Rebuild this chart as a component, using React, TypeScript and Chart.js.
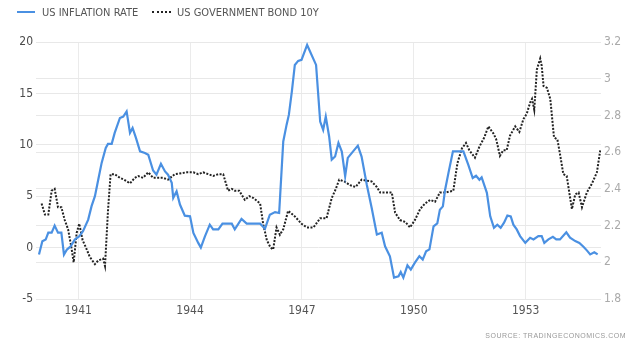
import React, { useEffect, useRef } from "react";
import { Chart, registerables } from "chart.js";

Chart.register(...registerables);

const inflationYears = [
  1939.95, 1940.04, 1940.13, 1940.2, 1940.29, 1940.37, 1940.46, 1940.55, 1940.62, 1940.7,
  1940.8, 1940.91, 1941.03, 1941.13, 1941.27, 1941.36, 1941.45, 1941.54, 1941.63, 1941.74,
  1941.8, 1941.9, 1941.98, 1942.12, 1942.21, 1942.3, 1942.39, 1942.46, 1942.55, 1942.66,
  1942.79, 1942.88, 1943.01, 1943.1, 1943.22, 1943.33, 1943.41, 1943.51, 1943.55, 1943.64,
  1943.73, 1943.86, 1944.0, 1944.09, 1944.22, 1944.29, 1944.4, 1944.53, 1944.62, 1944.76,
  1944.87, 1945.12, 1945.2, 1945.38, 1945.52, 1945.88, 1946.01, 1946.14, 1946.28, 1946.39,
  1946.5, 1946.59, 1946.65, 1946.73, 1946.81, 1946.9, 1946.99, 1947.14, 1947.38, 1947.49,
  1947.57, 1947.64, 1947.73, 1947.8, 1947.89, 1947.98, 1948.07, 1948.16, 1948.23, 1948.34,
  1948.5, 1948.6, 1948.74, 1948.87, 1949.01, 1949.14, 1949.23, 1949.36, 1949.47, 1949.59,
  1949.65, 1949.72, 1949.83, 1949.92, 1950.03, 1950.15, 1950.24, 1950.33, 1950.42, 1950.53,
  1950.63, 1950.7, 1950.78, 1950.84, 1950.93, 1951.05, 1951.33, 1951.46, 1951.58, 1951.67,
  1951.76, 1951.82, 1951.96, 1952.05, 1952.15, 1952.24, 1952.33, 1952.42, 1952.51, 1952.6,
  1952.67, 1952.76, 1952.85, 1952.99, 1953.12, 1953.21, 1953.34, 1953.43, 1953.5, 1953.61,
  1953.73, 1953.82, 1953.92, 1954.09, 1954.19, 1954.33, 1954.44, 1954.55, 1954.64, 1954.73,
  1954.84, 1954.93,
];

const inflationValues = [
  -0.68, 0.61, 0.78, 1.45, 1.45, 2.14, 1.45, 1.45, -0.68, -0.19,
  0.13, 0.78, 1.1, 1.6, 2.72, 4.03, 5.0, 6.62, 8.24, 9.7,
  10.09, 10.09, 11.16, 12.61, 12.75, 13.25, 11.16, 11.64, 10.67, 9.37,
  9.21, 9.03, 7.5, 7.09, 8.15, 7.41, 7.09, 6.3, 4.84, 5.47,
  4.19, 3.11, 3.04, 1.43, 0.46, 0.0, 1.1, 2.23, 1.77, 1.77,
  2.33, 2.33, 1.77, 2.79, 2.33, 2.33, 1.84, 3.2, 3.45, 3.37,
  10.32, 11.96, 12.91, 15.17, 17.77, 18.16, 18.27, 19.71, 17.77, 12.26,
  11.46, 12.75, 10.81, 8.56, 8.86, 10.18, 9.35, 6.94, 8.73, 9.21,
  9.92, 8.86, 6.12, 3.87, 1.28, 1.45, 0.13, -0.84, -2.92, -2.79,
  -2.38, -2.92, -1.73, -2.14, -1.47, -0.84, -1.17, -0.36, -0.17, 2.07,
  2.35, 3.69, 4.01, 5.63, 7.27, 9.37, 9.37, 8.06, 6.77, 6.99,
  6.6, 6.84, 5.33, 3.04, 1.93, 2.23, 1.93, 2.42, 3.11, 3.04,
  2.23, 1.77, 1.12, 0.46, 0.96, 0.8, 1.12, 1.12, 0.46, 0.8,
  1.04, 0.8, 0.8, 1.49, 0.96, 0.63, 0.46, 0.09, -0.27, -0.66,
  -0.46, -0.66,
];

const bondYears = [
  1940.02, 1940.11, 1940.2, 1940.29, 1940.37, 1940.46, 1940.55, 1940.64, 1940.73, 1940.82,
  1940.88, 1940.96, 1941.03, 1941.12, 1941.21, 1941.31, 1941.45, 1941.54, 1941.67, 1941.72,
  1941.8, 1941.87, 1941.98, 1942.12, 1942.23, 1942.39, 1942.52, 1942.61, 1942.74, 1942.88,
  1943.01, 1943.1, 1943.28, 1943.41, 1943.59, 1943.91, 1944.09, 1944.22, 1944.35, 1944.49,
  1944.62, 1944.76, 1944.89, 1945.02, 1945.12, 1945.2, 1945.32, 1945.47, 1945.59, 1945.7,
  1945.88, 1945.96, 1946.06, 1946.16, 1946.23, 1946.32, 1946.41, 1946.5, 1946.63, 1946.81,
  1946.99, 1947.13, 1947.31, 1947.49, 1947.66, 1947.8, 1947.91, 1948.0, 1948.14, 1948.29,
  1948.44, 1948.6, 1948.87, 1949.01, 1949.1, 1949.41, 1949.5, 1949.63, 1949.77, 1949.9,
  1950.03, 1950.17, 1950.3, 1950.44, 1950.57, 1950.7, 1950.84, 1951.06, 1951.17, 1951.29,
  1951.4, 1951.49, 1951.64, 1951.76, 1951.89, 1952.0, 1952.14, 1952.21, 1952.31, 1952.4,
  1952.49, 1952.58, 1952.72, 1952.83, 1952.94, 1953.03, 1953.12, 1953.17, 1953.23, 1953.3,
  1953.39, 1953.43, 1953.48, 1953.57, 1953.66, 1953.76, 1953.85, 1953.92, 1954.01, 1954.1,
  1954.24, 1954.33, 1954.42, 1954.51, 1954.64, 1954.78, 1954.91, 1955.0,
];

const bondValues = [
  2.32, 2.26, 2.26, 2.39, 2.4, 2.3, 2.3, 2.23, 2.18, 2.08,
  2.0, 2.16, 2.21, 2.12, 2.08, 2.03, 1.99, 2.01, 2.02, 1.98,
  2.28, 2.48, 2.48, 2.46, 2.45, 2.43, 2.46, 2.47, 2.46, 2.49,
  2.46, 2.46, 2.46, 2.45, 2.48, 2.49, 2.49, 2.48, 2.49, 2.48,
  2.47, 2.48, 2.48, 2.39, 2.4, 2.39, 2.39, 2.34, 2.36, 2.35,
  2.32, 2.21, 2.12, 2.08, 2.07, 2.19, 2.15, 2.18, 2.28, 2.25,
  2.21, 2.19, 2.19, 2.24, 2.24, 2.35, 2.4, 2.45, 2.44, 2.42,
  2.41, 2.45, 2.44, 2.41, 2.38, 2.38, 2.27, 2.23, 2.22, 2.19,
  2.23, 2.29, 2.32, 2.34, 2.33, 2.38, 2.38, 2.39, 2.54, 2.62,
  2.65, 2.61, 2.57, 2.63, 2.68, 2.74, 2.7, 2.67, 2.58, 2.61,
  2.61, 2.69, 2.74, 2.71, 2.78, 2.81, 2.87, 2.89, 2.83, 3.05,
  3.11, 3.07, 2.96, 2.95, 2.89, 2.68, 2.67, 2.59, 2.48, 2.47,
  2.29, 2.37, 2.38, 2.3, 2.38, 2.43, 2.49, 2.61,
];

const xTickYears = [1941, 1944, 1947, 1950, 1953];
const leftTicks = [-5, 0, 5, 10, 15, 20];
const rightTicks = [1.8, 2, 2.2, 2.4, 2.6, 2.8, 3, 3.2];

const seriesNames = ["US INFLATION RATE", "US GOVERNMENT BOND 10Y"];
const sourceText = "SOURCE:  TRADINGECONOMICS.COM";

const FONT = "'Liberation Sans Narrow', 'Arial Narrow', 'DejaVu Sans Condensed', sans-serif";
const BLUE = "#4a90e2";
const DARK = "#222222";

export default function App() {
  const canvasRef = useRef<HTMLCanvasElement | null>(null);

  useEffect(() => {
    const canvas = canvasRef.current;
    if (!canvas) return;
    const chart = new Chart(canvas, {
      type: "line",
      data: {
        datasets: [
          {
            label: seriesNames[0],
            data: inflationYears.map((x, i) => ({ x, y: inflationValues[i] })),
            yAxisID: "y",
            borderColor: BLUE,
            borderWidth: 2.2,
            pointRadius: 0,
            tension: 0,
            fill: false,
          },
          {
            label: seriesNames[1],
            data: bondYears.map((x, i) => ({ x, y: bondValues[i] })),
            yAxisID: "y1",
            borderColor: DARK,
            borderWidth: 2,
            borderDash: [2, 1.5],
            pointRadius: 0,
            tension: 0,
            fill: false,
          },
        ],
      },
      options: {
        animation: false,
        responsive: false,
        maintainAspectRatio: false,
        layout: { padding: { top: 42, left: 0, right: 0, bottom: 0 } },
        plugins: {
          legend: { display: false },
          tooltip: { enabled: false },
        },
        scales: {
          x: {
            type: "linear",
            min: 1939.87,
            max: 1955.02,
            afterBuildTicks: (axis: any) => {
              axis.ticks = xTickYears.map((v) => ({ value: v }));
            },
            afterFit: (axis: any) => {
              axis.height = 54;
            },
            ticks: {
              autoSkip: false,
              maxRotation: 0,
              padding: 5,
              color: "#555555",
              font: { family: FONT, size: 12 },
              callback: (v: any) => String(v),
            },
            grid: { color: "#ebebeb", drawTicks: false },
            border: { display: false },
          },
          y: {
            position: "left",
            min: -5,
            max: 20,
            afterBuildTicks: (axis: any) => {
              axis.ticks = leftTicks.map((v) => ({ value: v }));
            },
            afterFit: (axis: any) => {
              axis.width = 36;
            },
            ticks: {
              padding: 3,
              color: "#4a4a4a",
              font: { family: FONT, size: 12 },
              callback: (v: any) => String(v),
            },
            grid: { color: "#e8e8e8", drawTicks: false },
            border: { display: false },
          },
          y1: {
            position: "right",
            min: 1.8,
            max: 3.2,
            afterBuildTicks: (axis: any) => {
              axis.ticks = rightTicks.map((v) => ({ value: v }));
            },
            afterFit: (axis: any) => {
              axis.width = 39;
            },
            ticks: {
              padding: 3,
              color: "#aaaaaa",
              font: { family: FONT, size: 12 },
              callback: (v: any) => String(v),
            },
            grid: { color: "#e8e8e8", drawTicks: false },
            border: { display: false },
          },
        },
      },
    });
    return () => chart.destroy();
  }, []);

  return (
    <div
      style={{
        position: "absolute",
        left: 0,
        top: 0,
        width: 640,
        height: 353,
        background: "#ffffff",
        fontFamily: FONT,
      }}
    >
      <canvas ref={canvasRef} width={640} height={353} style={{ position: "absolute", left: 0, top: 0 }} />
      <div style={{ position: "absolute", left: 17, top: 11, width: 18, borderTop: `2.5px solid ${BLUE}` }} />
      <div style={{ position: "absolute", left: 42, top: 6, fontSize: 11, lineHeight: "13px", color: "#555555", whiteSpace: "nowrap" }}>
        {seriesNames[0]}
      </div>
      <div style={{ position: "absolute", left: 152, top: 11, width: 19, borderTop: `2px dotted ${DARK}` }} />
      <div style={{ position: "absolute", left: 177, top: 6, fontSize: 11, lineHeight: "13px", color: "#555555", whiteSpace: "nowrap" }}>
        {seriesNames[1]}
      </div>
      <div
        style={{
          position: "absolute",
          right: 14,
          top: 331,
          fontSize: 7,
          lineHeight: "9px",
          color: "#999999",
          letterSpacing: "0.5px",
          whiteSpace: "nowrap",
          fontFamily: "'Liberation Sans', Arial, sans-serif",
        }}
      >
        {sourceText}
      </div>
    </div>
  );
}
